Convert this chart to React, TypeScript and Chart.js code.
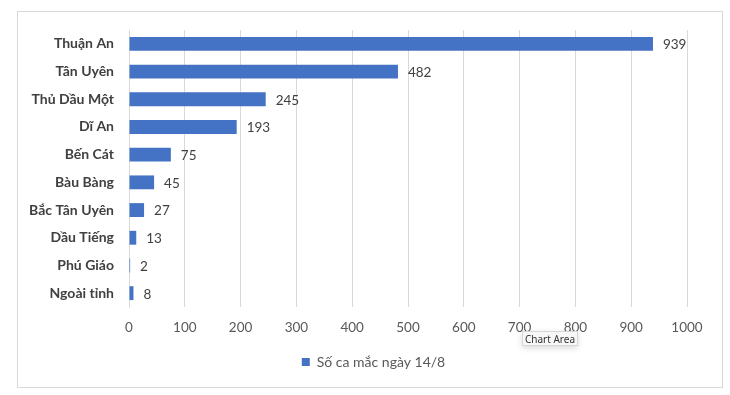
import React, { useEffect, useRef } from "react";
import { Chart, registerables } from "chart.js";

Chart.register(...registerables);

const categories = [
  "Thuận An",
  "Tân Uyên",
  "Thủ Dầu Một",
  "Dĩ An",
  "Bến Cát",
  "Bàu Bàng",
  "Bắc Tân Uyên",
  "Dầu Tiếng",
  "Phú Giáo",
  "Ngoài tỉnh",
];
const cases = [939, 482, 245, 193, 75, 45, 27, 13, 2, 8];
const seriesName = "Số ca mắc ngày 14/8";
const xMin = 0;
const xMax = 1000;
const xStep = 100;

const FONT = "Lato, 'Noto Sans', sans-serif";

const valueLabels = {
  id: "valueLabels",
  afterDatasetsDraw(chart: any) {
    const { ctx } = chart;
    const meta = chart.getDatasetMeta(0);
    ctx.save();
    ctx.font = `13.5px ${FONT}`;
    ctx.fillStyle = "#404040";
    ctx.textAlign = "left";
    ctx.textBaseline = "middle";
    meta.data.forEach((bar: any, i: number) => {
      const v = chart.data.datasets[0].data[i];
      ctx.fillText(String(v), bar.x + 10, bar.y + 1);
    });
    ctx.restore();
  },
};

export default function App() {
  const ref = useRef<HTMLCanvasElement>(null);
  useEffect(() => {
    if (!ref.current) return;
    const chart = new Chart(ref.current, {
      type: "bar",
      data: {
        labels: categories,
        datasets: [
          {
            label: seriesName,
            data: cases,
            backgroundColor: "#4472C4",
            borderWidth: 0,
            barPercentage: 0.5,
            categoryPercentage: 1,
          },
        ],
      },
      plugins: [valueLabels],
      options: {
        indexAxis: "y",
        animation: false,
        responsive: false,
        maintainAspectRatio: false,
        layout: { padding: { top: 18, right: 0, bottom: 8, left: 7 } },
        plugins: {
          tooltip: { enabled: false },
          legend: {
            position: "bottom",
            labels: {
              boxWidth: 8,
              boxHeight: 8,
              color: "#595959",
              font: { family: FONT, size: 14 },
              padding: 10,
            },
          },
        },
        scales: {
          x: {
            min: xMin,
            max: xMax,
            ticks: {
              stepSize: xStep,
              color: "#595959",
              font: { family: FONT, size: 13.5 },
              padding: 13,
              callback: (v: any) => String(v),
            },
            grid: { color: "#d9d9d9", lineWidth: 1, drawTicks: false },
            border: { display: false },
            afterFit(scale: any) {
              scale.height = 38;
              scale.paddingRight = 35;
            },
          },
          y: {
            ticks: {
              color: "#404040",
              font: { family: FONT, size: 14, weight: "bold" },
              padding: 15,
            },
            grid: { display: false, drawTicks: false },
            border: { display: true, color: "#d9d9d9" },
            afterFit(scale: any) {
              scale.width = 104;
              scale.paddingTop = 0;
              scale.paddingBottom = 0;
            },
          },
        },
      },
    });
    return () => chart.destroy();
  }, []);

  return (
    <div
      style={{
        position: "absolute",
        left: 0,
        top: 0,
        width: 730,
        height: 395,
        background: "#fff",
        fontFamily: FONT,
      }}
    >
      <div
        style={{
          position: "absolute",
          left: 17,
          top: 11,
          width: 704,
          height: 375,
          border: "1px solid #d9d9d9",
        }}
      >
        <canvas ref={ref} width={704} height={375} style={{ display: "block" }} />
      </div>
      <div
        style={{
          position: "absolute",
          left: 522,
          top: 331,
          width: 56,
          height: 15,
          background: "#f7f7f7",
          border: "1px solid #d6d6d6",
          boxShadow: "0 2px 6px rgba(0,0,0,0.15)",
          fontSize: 10,
          lineHeight: "15px",
          textAlign: "center",
          color: "#333",
          fontFamily: "'Noto Sans', sans-serif",
          boxSizing: "border-box",
        }}
      >
        Chart Area
      </div>
    </div>
  );
}
